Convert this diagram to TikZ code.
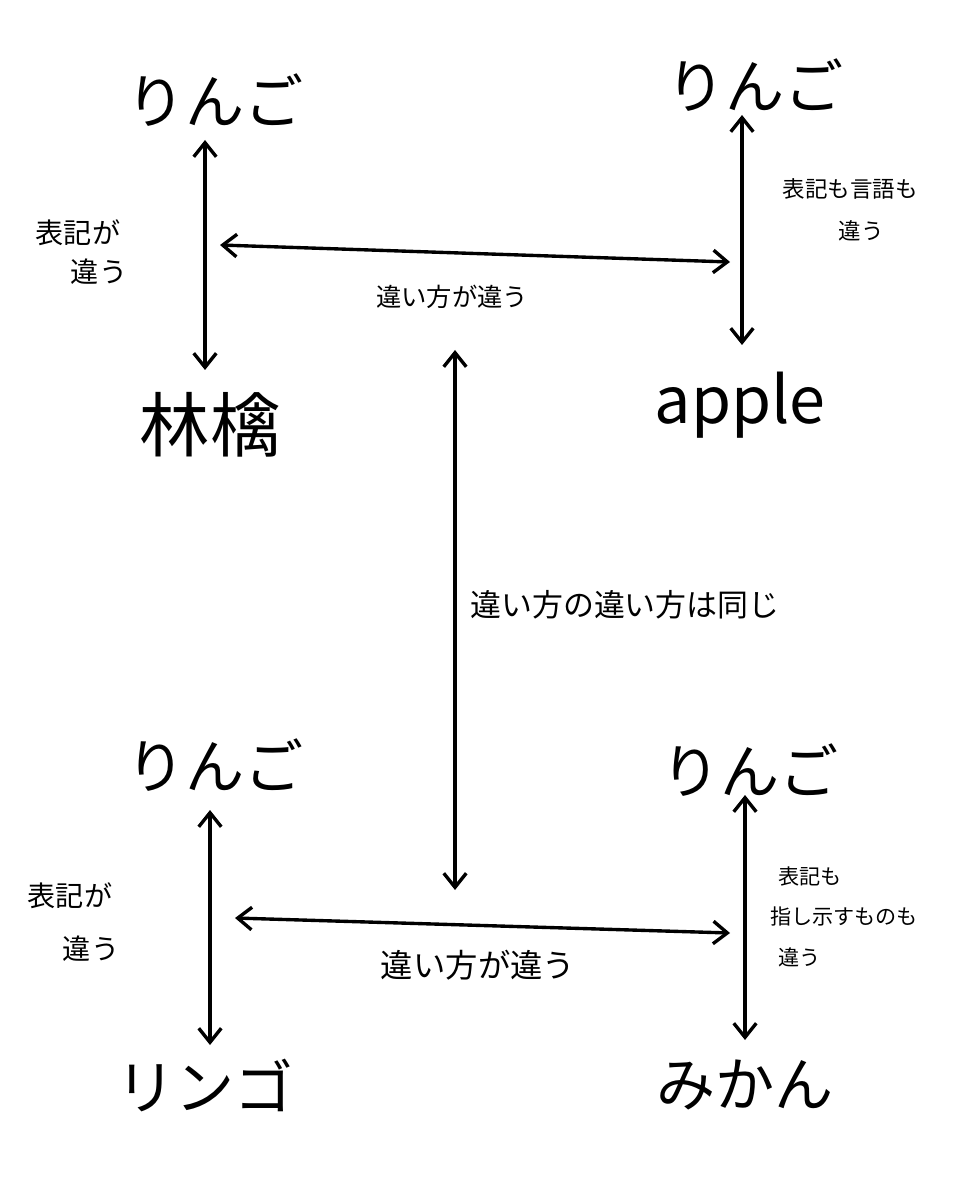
\documentclass[tikz,border=0pt]{standalone}
\usepackage{fontspec}
\setmainfont{Noto Sans CJK JP}
\usetikzlibrary{arrows.meta}

\tikzset{
  word/.style={font=\fontsize{42}{46}\selectfont},
  kanji/.style={font=\fontsize{50}{56}\selectfont},
  note/.style={font=\fontsize{#1}{#1}\selectfont, align=left},
  link/.style={{Straight Barb[length=10pt,width=16pt]}-{Straight Barb[length=10pt,width=16pt]}, line width=2.4pt, line cap=round}
}

\begin{document}
\begin{tikzpicture}[x=0.025cm, y=0.025cm, every node/.style={inner sep=0pt}]
  \useasboundingbox[fill=white] (0,0) rectangle (974,-1200);
  % top left pair
  \node[word] (ringoA) at (215,-100) {りんご};
  \node[kanji] (kanjiA) at (210,-425) {林檎};
  % top right pair
  \node[word] (ringoB) at (755,-85) {りんご};
  \node[word, font=\fontsize{46}{50}\selectfont] (appleB) at (740,-405) {apple};
  % bottom left pair
  \node[word] (ringoC) at (215,-765) {りんご};
  \node[word] (katakanaC) at (205,-1085) {リンゴ};
  % bottom right pair
  \node[word] (ringoD) at (750,-770) {りんご};
  \node[word] (mikanD) at (745,-1085) {みかん};

  \coordinate (topA) at (205,-140);   \coordinate (botA) at (205,-370);
  \coordinate (topB) at (742,-115);   \coordinate (botB) at (742,-345);
  \coordinate (topC) at (210,-810);   \coordinate (botC) at (210,-1045);
  \coordinate (topD) at (745,-795);   \coordinate (botD) at (745,-1040);
  \coordinate (upL) at (220,-245);    \coordinate (upR) at (730,-262);
  \coordinate (lowL) at (235,-918);   \coordinate (lowR) at (730,-933);
  \coordinate (midT) at (455,-350);   \coordinate (midB) at (455,-890);

  \draw[link] (topA) -- (botA);
  \draw[link] (topB) -- (botB);
  \draw[link] (topC) -- (botC);
  \draw[link] (topD) -- (botD);
  \draw[link] (upL) -- (upR);
  \draw[link] (lowL) -- (lowR);
  \draw[link] (midT) -- (midB);

  % labels
  \node[note=20, align=center] (noteA) at (78,-252) {表記が\\[8pt]\hspace{1.5em}違う};
  \node[note=16, align=center] (noteB) at (850,-210) {表記も言語も\\[14pt]\hspace{1em}違う};
  \node[note=18] (upNote) at (452,-297) {違い方が違う};
  \node[note=22, anchor=west] (midNote) at (470,-605) {違い方の違い方は同じ};
  \node[note=20, align=center] (noteC) at (70,-922) {表記が\\[18pt]\hspace{1.5em}違う};
  \node[note=15, anchor=north west] (noteD) at (770,-866) {\hspace{0.4em}表記も\\[14pt]指し示すものも\\[14pt]\hspace{0.4em}違う};
  \node[note=23] (lowNote) at (478,-965) {違い方が違う};
\end{tikzpicture}
\end{document}
